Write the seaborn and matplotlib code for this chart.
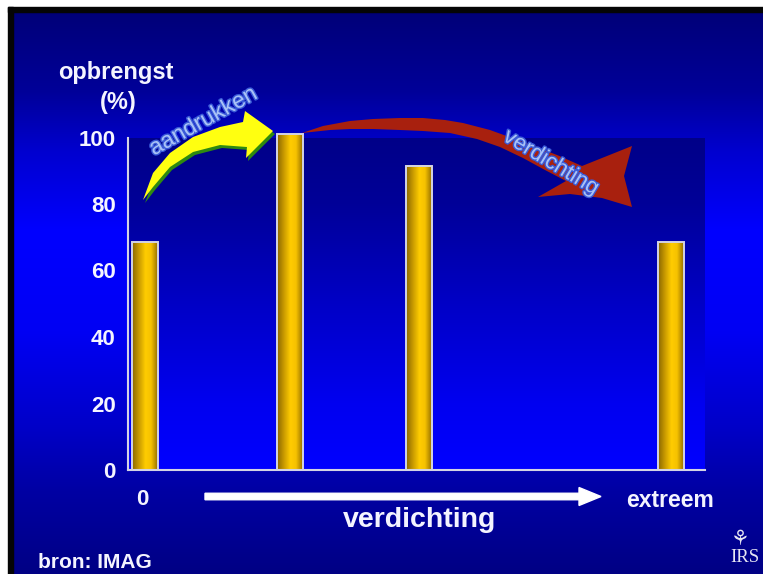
import numpy as np
import pandas as pd
import matplotlib
matplotlib.use("Agg")
import matplotlib.pyplot as plt
import matplotlib.patheffects as pe
from matplotlib.colors import LinearSegmentedColormap
from matplotlib.patches import Polygon, Rectangle, FancyArrow
from matplotlib.transforms import ScaledTranslation
import seaborn as sns

# ---- data -------------------------------------------------------------
verdichting_stap = [0.05, 2.3, 4.3, 8.2]      # degree of compaction (relative steps)
opbrengst = [68.5, 101.0, 91.5, 68.5]        # yield (%)
x_tick_pos = [0, 1, 2, 3, 4, 5, 6, 7, 8]
x_tick_labels = ["0", "", "", "", "", "", "", "", "extreem"]
y_ticks = [0, 20, 40, 60, 80, 100]

# ---- style ------------------------------------------------------------
sns.set_style("white")
plt.rcParams["font.family"] = ["Liberation Sans", "DejaVu Sans"]
TXT = "#F4F4FF"
AXC = "#D4D4E4"

W, H = 763, 574
fig = plt.figure(figsize=(W / 100, H / 100), dpi=100)
fig.patch.set_facecolor("white")

# slide background in pixel coordinates
bg = fig.add_axes([0, 0, 1, 1])
bg.set_xlim(0, W)
bg.set_ylim(H, 0)
bg.axis("off")

slide_cmap = LinearSegmentedColormap.from_list(
    "slide",
    [(0.0, "#000078"), (0.14, "#000098"), (0.25, "#0000D0"), (0.39, "#0000FF"),
     (0.57, "#0000F4"), (0.74, "#0000C8"), (0.85, "#0000A4"), (1.0, "#000084")])
grad = np.linspace(0, 1, 256).reshape(-1, 1)
bg.imshow(grad, cmap=slide_cmap, aspect="auto", extent=(13, W, H, 11),
          origin="upper", zorder=0)
bg.add_patch(Rectangle((8, 7), W - 8, 4.5, color="#050505", zorder=2))
bg.add_patch(Rectangle((8, 7), 5, H - 7, color="#050505", zorder=2))

# ---- main chart -------------------------------------------------------
L, R, T, B = 128, 705, 137.5, 470
ax = fig.add_axes([L / W, 1 - B / H, (R - L) / W, (B - T) / H])
ax.patch.set_alpha(0)

plot_cmap = LinearSegmentedColormap.from_list(
    "plotarea",
    [(0.0, "#0000FF"), (0.2, "#0000F0"), (0.5, "#0000C6"), (0.8, "#000098"), (1.0, "#000088")])
ax.imshow(grad[::-1], cmap=plot_cmap, aspect="auto", extent=(0, 1, 0, 1),
          transform=ax.transAxes, zorder=0, origin="upper")

df = pd.DataFrame({"stap": verdichting_stap, "opbrengst": opbrengst})
min_gap = np.min(np.diff(sorted(verdichting_stap)))
sns.barplot(data=df, x="stap", y="opbrengst", native_scale=True,
            width=0.40 / min_gap, color="#FFCC00", edgecolor=AXC,
            linewidth=0, errorbar=None, ax=ax, zorder=2)

bar_cmap = LinearSegmentedColormap.from_list(
    "gold",
    [(0.0, "#8A6800"), (0.22, "#BF9200"), (0.52, "#FFCC00"), (0.74, "#F6C200"), (1.0, "#967000")])
hgrad = np.linspace(0, 1, 64).reshape(1, -1)
for bar in list(ax.patches):
    x0, y0 = bar.get_x(), bar.get_y()
    w, h = bar.get_width(), bar.get_height()
    bar.set_clip_on(False)
    im = ax.imshow(hgrad, cmap=bar_cmap, aspect="auto",
                   extent=(x0, x0 + w, y0, y0 + h), zorder=2.5)
    im.set_clip_on(False)
    ax.add_patch(Rectangle((x0, y0), w, h, fill=False, edgecolor=AXC,
                           linewidth=1.4, zorder=3, clip_on=False))

ax.set_xlim(-0.217, 8.73)
ax.set_ylim(0, 100)
ax.set_xlabel("")
ax.set_ylabel("")
ax.set_xticks(x_tick_pos)
ax.set_xticklabels(x_tick_labels)
ax.set_yticks(y_ticks)
ax.set_yticklabels([str(v) for v in y_ticks])
for side in ("top", "right"):
    ax.spines[side].set_visible(False)
for side in ("left", "bottom"):
    ax.spines[side].set_visible(True)
    ax.spines[side].set_color(AXC)
    ax.spines[side].set_linewidth(1.5)
ax.tick_params(axis="both", direction="out", color=AXC, width=1.5,
               labelcolor=TXT, labelsize=16)
ax.tick_params(axis="y", length=7, pad=2)
ax.tick_params(axis="x", length=6, pad=8)
for lab in ax.get_xticklabels() + ax.get_yticklabels():
    lab.set_fontweight("bold")
last = ax.get_xticklabels()[-1]
last.set_fontsize(16.5)
last.set_transform(last.get_transform() + ScaledTranslation(12 / 100, 0, fig.dpi_scale_trans))
ax.set_xlim(-0.217, 8.73)

# ---- overlay: annotations in pixel coordinates -----------------------
ov = fig.add_axes([0, 0, 1, 1])
ov.set_xlim(0, W)
ov.set_ylim(H, 0)
ov.axis("off")
ov.patch.set_alpha(0)

# y-axis title
ov.text(116, 73, "opbrengst", ha="center", va="center", color=TXT,
        fontsize=17, fontweight="bold")
ov.text(118, 102, "(%)", ha="center", va="center", color=TXT,
        fontsize=17, fontweight="bold")

# x-axis direction arrow and title
ov.add_patch(FancyArrow(205, 496.5, 396, 0, width=6.5, head_width=18,
                        head_length=22, length_includes_head=True,
                        color="white", zorder=3))
ov.text(420, 520, "verdichting", ha="center", va="center", color=TXT,
        fontsize=20.5, fontweight="bold")

# source and logo
ov.text(38, 562, "bron: IMAG", ha="left", va="center", color=TXT,
        fontsize=15, fontweight="bold")
ov.text(759, 558, "IRS", ha="right", va="center", color="#E6E6F2",
        fontsize=13.5, family=["Liberation Serif", "DejaVu Serif"])
ov.text(740, 539, "\u2698", ha="center", va="center", color="#E6E6F2",
        fontsize=15, family=["DejaVu Sans"])

# yellow arrow: aandrukken
yellow_pts = [(143, 200), (153, 173), (170, 153), (193, 137), (220, 127),
              (243, 122), (245, 111), (273, 131), (246, 158), (247, 147),
              (220, 145), (193, 152), (170, 167), (153, 187)]
shadow = [(x + 2, y + 3) for x, y in yellow_pts]
ov.add_patch(Polygon(shadow, closed=True, facecolor="#2E8A10", edgecolor="none", zorder=4))
ov.add_patch(Polygon(yellow_pts, closed=True, facecolor="#FFFF10", edgecolor="none", zorder=5))
ov.text(203, 121, "aandrukken", ha="center", va="center", rotation=29,
        rotation_mode="anchor", color="#A9C2F6", fontsize=16.5,
        path_effects=[pe.withStroke(linewidth=2, foreground="#3A5AD8")], zorder=6)

# red arrow: verdichting
red_pts = [(302, 133), (323, 126), (350, 121), (373, 119), (400, 118), (423, 118),
           (445, 120), (463, 123), (490, 130), (523, 142), (557, 155), (582, 166),
           (632, 146), (624, 176), (632, 207), (602, 198), (570, 194), (538, 197),
           (566, 181), (545, 170), (523, 158), (500, 147), (477, 139), (450, 133),
           (423, 131), (400, 130), (373, 129), (350, 129), (330, 130)]
ov.add_patch(Polygon(red_pts, closed=True, facecolor="#A8200E", edgecolor="none", zorder=4))
ov.text(551, 163, "verdichting", ha="center", va="center", rotation=-31,
        rotation_mode="anchor", color="#A9C2F6", fontsize=16,
        path_effects=[pe.withStroke(linewidth=2, foreground="#3A5AD8")], zorder=6)

fig.savefig("out.png", dpi=100, facecolor=fig.get_facecolor())
